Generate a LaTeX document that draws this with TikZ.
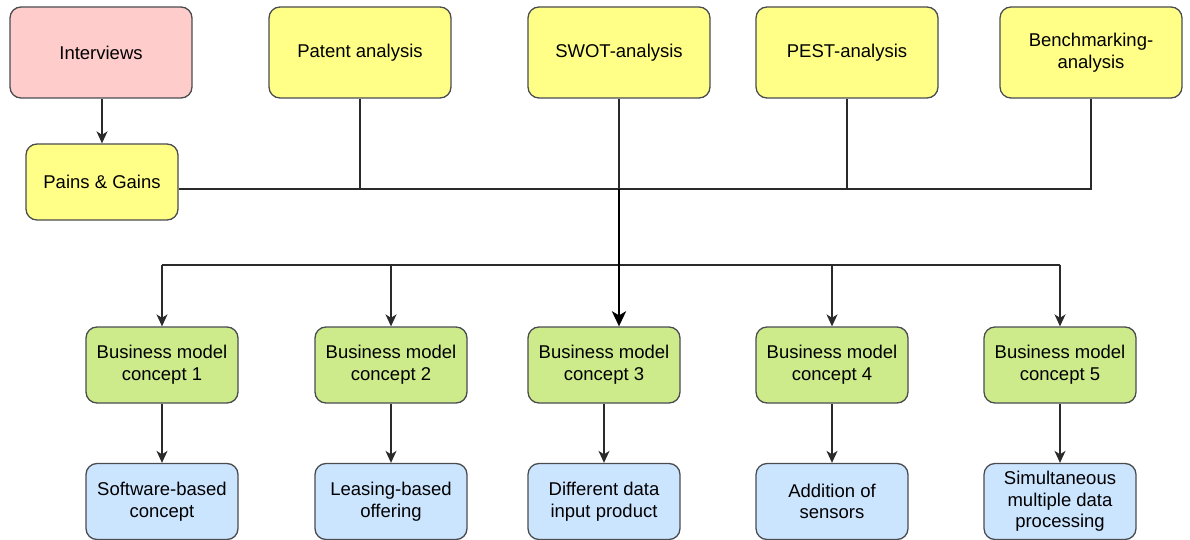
\documentclass[tikz,border=0pt]{standalone}
\usepackage{fontspec}
\setmainfont{Liberation Sans}
\usetikzlibrary{arrows.meta}

\definecolor{edgegray}{HTML}{4A4C50}
\definecolor{linkgray}{HTML}{2A2A2A}
\definecolor{pinkfill}{HTML}{FFCCCC}
\definecolor{yellowfill}{HTML}{FFFF88}
\definecolor{greenfill}{HTML}{CDEB8B}
\definecolor{bluefill}{HTML}{CCE5FF}

\tikzset{
  box/.style={draw=edgegray, line width=1.3pt, rounded corners=11pt,
    align=center, inner sep=0pt, text=black,
    font=\fontsize{18.5}{21.7}\selectfont},
  topbox/.style={box, minimum width=182pt, minimum height=91pt},
  midbox/.style={box, minimum width=152pt, minimum height=76pt},
  source/.style={topbox, fill=yellowfill},
  concept/.style={midbox, fill=greenfill},
  outcome/.style={midbox, fill=bluefill},
  link/.style={draw=linkgray, line width=1.4pt},
  trunk/.style={draw=black, line width=2.8pt},
  tip/.style={-{Stealth[length=12pt, width=11pt, inset=3.5pt]}},
  bigtip/.style={-{Stealth[length=15pt, width=14pt, inset=4pt]}},
}

\begin{document}
\begin{tikzpicture}[x=1pt, y=1pt]
  \useasboundingbox (0,0) rectangle (1190,-540);

  % information sources
  \node[topbox, fill=pinkfill] (interviews) at (101,-52.5) {Interviews};
  \node[source] (patent) at (360,-52.5) {Patent analysis};
  \node[source] (swot)   at (619,-52.5) {SWOT-analysis};
  \node[source] (pest)   at (847,-52.5) {PEST-analysis};
  \node[source] (bench)  at (1091,-52.5) {Benchmarking-\\analysis};
  \node[box, fill=yellowfill, minimum width=152pt, minimum height=76pt]
       (pains) at (102,-182) {Pains \& Gains};

  % business model concepts
  \node[concept] (bmc1) at (162,-365) {Business model\\concept 1};
  \node[concept] (bmc2) at (391,-365) {Business model\\concept 2};
  \node[concept] (bmc3) at (604,-365) {Business model\\concept 3};
  \node[concept] (bmc4) at (832,-365) {Business model\\concept 4};
  \node[concept] (bmc5) at (1060,-365) {Business model\\concept 5};

  % resulting offerings
  \node[outcome] (res1) at (162,-501.5) {Software-based\\concept};
  \node[outcome] (res2) at (391,-501.5) {Leasing-based\\offering};
  \node[outcome] (res3) at (604,-501.5) {Different data\\input product};
  \node[outcome] (res4) at (832,-501.5) {Addition of\\sensors};
  \node[outcome] (res5) at (1060,-501.5) {Simultaneous\\multiple data\\processing};

  % collecting bus and distribution bus levels
  \coordinate (bus)  at (0,-189);
  \coordinate (dist) at (0,-265);

  \draw[link, tip] (interviews.south -| pains.north) -- (pains.north);

  \draw[link] (pains.east |- bus) -- (bench.south |- bus) -- (bench.south);
  \draw[link] (patent.south) -- (patent.south |- bus);
  \draw[link] (swot.south)   -- (swot.south |- bus);
  \draw[link] (pest.south)   -- (pest.south |- bus);

  \draw[link] (bmc1.north |- dist) -- (bmc5.north |- dist);
  \draw[trunk, bigtip] (swot.south |- bus) -- (swot.south |- bmc3.north);

  \foreach \i in {1,2,4,5} {
    \draw[link, tip] (bmc\i.north |- dist) -- (bmc\i.north);
  }
  \foreach \i in {1,...,5} {
    \draw[link, tip] (bmc\i.south) -- (res\i.north);
  }
\end{tikzpicture}
\end{document}
